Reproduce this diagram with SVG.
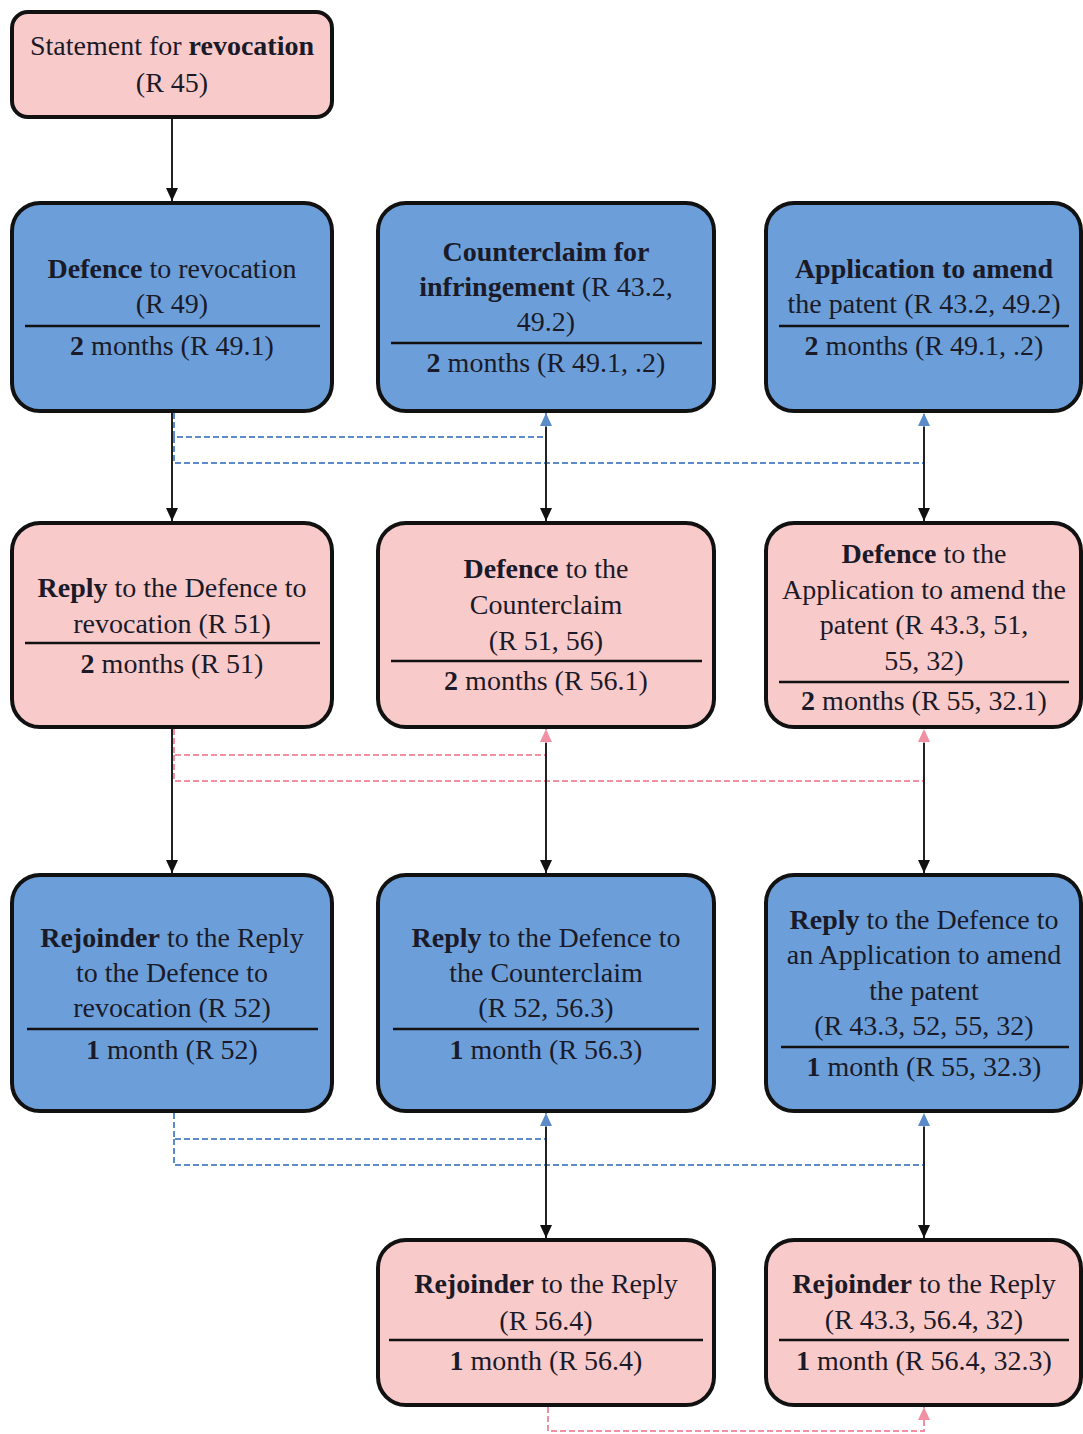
<svg xmlns="http://www.w3.org/2000/svg" width="1083" height="1434" viewBox="0 0 1083 1434">
<defs>
<marker id="ab" viewBox="0 0 13 12" refX="13" refY="6" markerWidth="13" markerHeight="12" markerUnits="userSpaceOnUse" orient="auto"><path d="M0,0 L13,6 L0,12 z" fill="#111"/></marker>
<marker id="abl" viewBox="0 0 13 12" refX="13" refY="6" markerWidth="13" markerHeight="12" markerUnits="userSpaceOnUse" orient="auto"><path d="M0,0 L13,6 L0,12 z" fill="#5b8bc9"/></marker>
<marker id="apk" viewBox="0 0 13 12" refX="13" refY="6" markerWidth="13" markerHeight="12" markerUnits="userSpaceOnUse" orient="auto"><path d="M0,0 L13,6 L0,12 z" fill="#f28fa3"/></marker>
</defs>
<style>
.pink{fill:#f9caca;stroke:#111;stroke-width:4}
.blue{fill:#6c9fd9;stroke:#111;stroke-width:4}
.div{stroke:#111;stroke-width:2.5}
text{font-family:"Liberation Serif","Tinos","Times New Roman","DejaVu Serif",serif;font-size:28px;fill:#1a1a28;text-anchor:middle}
.b{font-weight:bold}
.solid{stroke:#222;stroke-width:2;fill:none}
.dblue{stroke:#5b8bc9;stroke-width:2;fill:none;stroke-dasharray:6 3}
.dpink{stroke:#f28fa3;stroke-width:2;fill:none;stroke-dasharray:6 3}
</style>
<rect width="1083" height="1434" fill="#fff"/>
<g id="connectors">
<path class="solid" d="M172,119 V201" marker-end="url(#ab)"/>
<path class="dblue" d="M174,413 V437 H546 V413" marker-end="url(#abl)"/>
<path class="dblue" d="M174,437 V463 H924 V413" marker-end="url(#abl)"/>
<path class="solid" d="M172,413 V521" marker-end="url(#ab)"/>
<path class="solid" d="M546,427 V521" marker-end="url(#ab)"/>
<path class="solid" d="M924,427 V521" marker-end="url(#ab)"/>
<path class="dpink" d="M174,729 V755 H546 V729" marker-end="url(#apk)"/>
<path class="dpink" d="M174,755 V781 H924 V729" marker-end="url(#apk)"/>
<path class="solid" d="M172,729 V873" marker-end="url(#ab)"/>
<path class="solid" d="M546,743 V873" marker-end="url(#ab)"/>
<path class="solid" d="M924,743 V873" marker-end="url(#ab)"/>
<path class="dblue" d="M174,1113 V1139 H546 V1113" marker-end="url(#abl)"/>
<path class="dblue" d="M174,1139 V1165 H924 V1113" marker-end="url(#abl)"/>
<path class="solid" d="M546,1127 V1238" marker-end="url(#ab)"/>
<path class="solid" d="M924,1127 V1238" marker-end="url(#ab)"/>
<path class="dpink" d="M548,1407 V1431 H924 V1407" marker-end="url(#apk)"/>
</g>
<g id="n0"><rect class="pink" x="12" y="12" width="320" height="105" rx="16"/>
<text x="172" y="55">Statement for <tspan class="b">revocation</tspan></text><text x="172" y="92">(R 45)</text></g>
<g id="n1"><rect class="blue" x="12" y="203" width="320" height="208" rx="28"/>
<text x="172" y="278"><tspan class="b">Defence</tspan> to revocation</text><text x="172" y="313">(R 49)</text>
<line class="div" x1="25" y1="326" x2="320" y2="326"/><text x="172" y="355"><tspan class="b">2</tspan> months (R 49.1)</text></g>
<g id="n2"><rect class="blue" x="378" y="203" width="336" height="208" rx="28"/>
<text x="546" y="261" class="b">Counterclaim for</text><text x="546" y="296"><tspan class="b">infringement</tspan> (R 43.2,</text><text x="546" y="331">49.2)</text>
<line class="div" x1="391" y1="343" x2="702" y2="343"/><text x="546" y="372"><tspan class="b">2</tspan> months (R 49.1, .2)</text></g>
<g id="n3"><rect class="blue" x="766" y="203" width="315" height="208" rx="28"/>
<text x="924" y="278" class="b">Application to amend</text><text x="924" y="313">the patent (R 43.2, 49.2)</text>
<line class="div" x1="779" y1="326" x2="1069" y2="326"/><text x="924" y="355"><tspan class="b">2</tspan> months (R 49.1, .2)</text></g>
<g id="n4"><rect class="pink" x="12" y="523" width="320" height="204" rx="28"/>
<text x="172" y="597"><tspan class="b">Reply</tspan> to the Defence to</text><text x="172" y="633">revocation (R 51)</text>
<line class="div" x1="25" y1="643" x2="320" y2="643"/><text x="172" y="673"><tspan class="b">2</tspan> months (R 51)</text></g>
<g id="n5"><rect class="pink" x="378" y="523" width="336" height="204" rx="28"/>
<text x="546" y="578"><tspan class="b">Defence</tspan> to the</text><text x="546" y="614">Counterclaim</text><text x="546" y="650">(R 51, 56)</text>
<line class="div" x1="391" y1="661" x2="702" y2="661"/><text x="546" y="690"><tspan class="b">2</tspan> months (R 56.1)</text></g>
<g id="n6"><rect class="pink" x="766" y="523" width="315" height="204" rx="28"/>
<text x="924" y="563"><tspan class="b">Defence</tspan> to the</text><text x="924" y="599">Application to amend the</text><text x="924" y="634">patent (R 43.3, 51,</text><text x="924" y="670">55, 32)</text>
<line class="div" x1="779" y1="682" x2="1069" y2="682"/><text x="924" y="710"><tspan class="b">2</tspan> months (R 55, 32.1)</text></g>
<g id="n7"><rect class="blue" x="12" y="875" width="320" height="236" rx="28"/>
<text x="172" y="947"><tspan class="b">Rejoinder</tspan> to the Reply</text><text x="172" y="982">to the Defence to</text><text x="172" y="1017">revocation (R 52)</text>
<line class="div" x1="27" y1="1029" x2="318" y2="1029"/><text x="172" y="1059"><tspan class="b">1</tspan> month (R 52)</text></g>
<g id="n8"><rect class="blue" x="378" y="875" width="336" height="236" rx="28"/>
<text x="546" y="947"><tspan class="b">Reply</tspan> to the Defence to</text><text x="546" y="982">the Counterclaim</text><text x="546" y="1017">(R 52, 56.3)</text>
<line class="div" x1="393" y1="1029" x2="699" y2="1029"/><text x="546" y="1059"><tspan class="b">1</tspan> month (R 56.3)</text></g>
<g id="n9"><rect class="blue" x="766" y="875" width="315" height="236" rx="28"/>
<text x="924" y="929"><tspan class="b">Reply</tspan> to the Defence to</text><text x="924" y="964">an Application to amend</text><text x="924" y="1000">the patent</text><text x="924" y="1035">(R 43.3, 52, 55, 32)</text>
<line class="div" x1="781" y1="1047" x2="1069" y2="1047"/><text x="924" y="1076"><tspan class="b">1</tspan> month (R 55, 32.3)</text></g>
<g id="n10"><rect class="pink" x="378" y="1240" width="336" height="165" rx="28"/>
<text x="546" y="1293"><tspan class="b">Rejoinder</tspan> to the Reply</text><text x="546" y="1330">(R 56.4)</text>
<line class="div" x1="389" y1="1340" x2="703" y2="1340"/><text x="546" y="1370"><tspan class="b">1</tspan> month (R 56.4)</text></g>
<g id="n11"><rect class="pink" x="766" y="1240" width="315" height="165" rx="28"/>
<text x="924" y="1293"><tspan class="b">Rejoinder</tspan> to the Reply</text><text x="924" y="1329">(R 43.3, 56.4, 32)</text>
<line class="div" x1="779" y1="1340" x2="1069" y2="1340"/><text x="924" y="1370"><tspan class="b">1</tspan> month (R 56.4, 32.3)</text></g>
</svg>
